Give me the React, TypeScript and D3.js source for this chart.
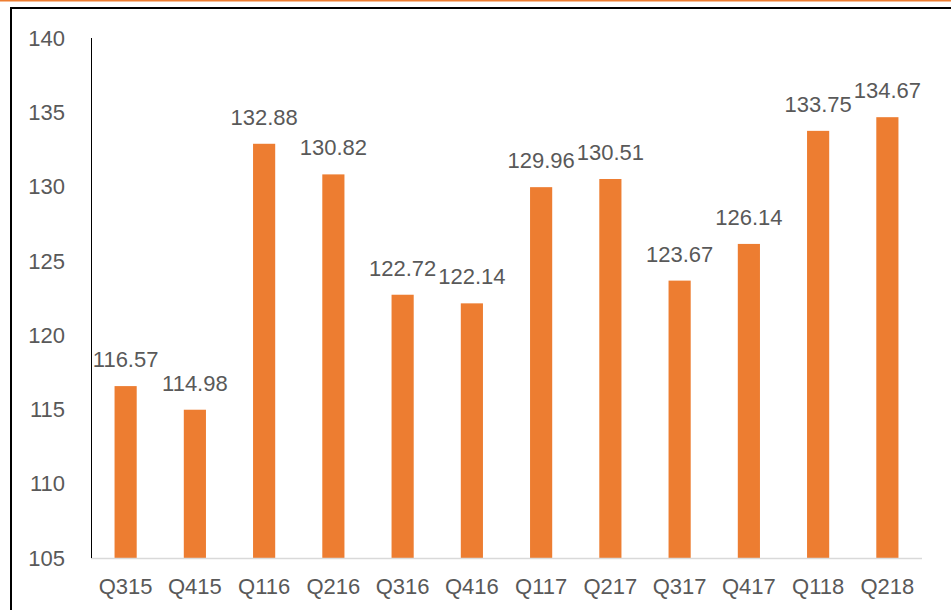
import React from "react";
import * as d3 from "d3";

const categories = ["Q315","Q415","Q116","Q216","Q316","Q416","Q117","Q217","Q317","Q417","Q118","Q218"];
const values = [116.57,114.98,132.88,130.82,122.72,122.14,129.96,130.51,123.67,126.14,133.75,134.67];
const yTicks = [105,110,115,120,125,130,135,140];

export default function App() {
  const W = 951, H = 610;
  const x0 = 91, x1 = 922, yTop = 38, yBot = 558;
  const x = d3.scaleBand<string>().domain(categories).range([x0, x1]).paddingInner(0.68).paddingOuter(0.34);
  const y = d3.scaleLinear().domain([105, 140]).range([yBot, yTop]);
  const font = "'Liberation Sans', Arial, sans-serif";
  const gray = "#595959";
  return (
    <svg width={W} height={H} style={{ position: "absolute", left: 0, top: 0, background: "#fff" }}>
      <rect x={0} y={0} width={W} height={H} fill="#fff" />
      <line x1={0} x2={W} y1={0.5} y2={0.5} stroke="#ED7D31" strokeWidth={2} />
      <rect x={11} y={8} width={W + 10} height={H + 10} fill="none" stroke="#000" strokeWidth={2} />
      {categories.map((c, i) => (
        <rect key={c} x={x(c)} y={y(values[i])} width={x.bandwidth()} height={yBot - y(values[i])} fill="#ED7D31" />
      ))}
      <line x1={x0} x2={x1} y1={yBot + 0.5} y2={yBot + 0.5} stroke="#D9D9D9" strokeWidth={1.5} />
      <line x1={x0 + 0.5} x2={x0 + 0.5} y1={yTop} y2={yBot} stroke="#000" strokeWidth={1} />
      {yTicks.map(t => (
        <text key={t} x={65} y={y(t)} dy="0.35em" textAnchor="end" fontFamily={font} fontSize={22} fill={gray}>{t}</text>
      ))}
      {categories.map((c, i) => (
        <text key={c} x={x(c)! + x.bandwidth() / 2} y={594} textAnchor="middle" fontFamily={font} fontSize={22} fill={gray}>{c}</text>
      ))}
      {categories.map((c, i) => (
        <text key={c} x={x(c)! + x.bandwidth() / 2} y={y(values[i]) - 19} textAnchor="middle" fontFamily={font} fontSize={22} fill={gray}>{values[i].toFixed(2)}</text>
      ))}
    </svg>
  );
}
